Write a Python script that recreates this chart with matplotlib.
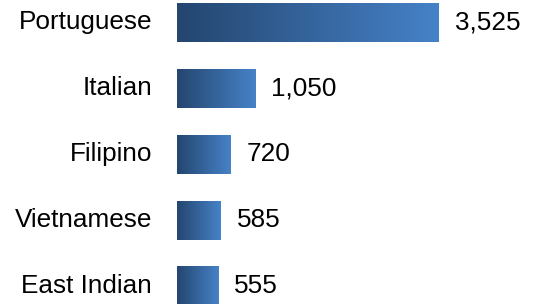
import matplotlib
matplotlib.use("Agg")
import matplotlib.pyplot as plt
import numpy as np
from matplotlib.colors import LinearSegmentedColormap

categories = ["Portuguese", "Italian", "Filipino", "Vietnamese", "East Indian"]
values = [3525, 1050, 720, 585, 555]
value_labels = ["3,525", "1,050", "720", "585", "555"]

W, H = 535, 304
fig = plt.figure(figsize=(W / 100, H / 100), dpi=100)
ax_left = 177 / W
ax = fig.add_axes([ax_left, 0, 1 - ax_left, 1])

px_per_unit = 262 / 3525
xmax = (W - 177) / px_per_unit
spacing = 65.9
top_center = 22.5
ax.set_xlim(0, xmax)
ax.set_ylim((H - top_center) / spacing, -top_center / spacing)
ax.axis("off")

cmap = LinearSegmentedColormap.from_list("g", ["#24466F", "#4682C8"])
grad = np.linspace(0, 1, 256).reshape(1, -1)
bh = 0.59
fs = 18.8
base_off = 7.0 / spacing
for i, (c, v, lab) in enumerate(zip(categories, values, value_labels)):
    ax.imshow(grad, cmap=cmap, aspect="auto", extent=(0, v, i + bh / 2, i - bh / 2),
              interpolation="bilinear")
    ax.text(v + 16 / px_per_unit, i + base_off, lab, va="baseline", ha="left", fontsize=fs,
            family="Liberation Sans", color="#000000")
    ax.text(-25 / px_per_unit, i + base_off, c, va="baseline", ha="right", fontsize=fs,
            family="Liberation Sans", color="#000000", clip_on=False)

ax.set_xlim(0, xmax)
ax.set_ylim((H - top_center) / spacing, -top_center / spacing)
fig.savefig("out.png", dpi=100)
